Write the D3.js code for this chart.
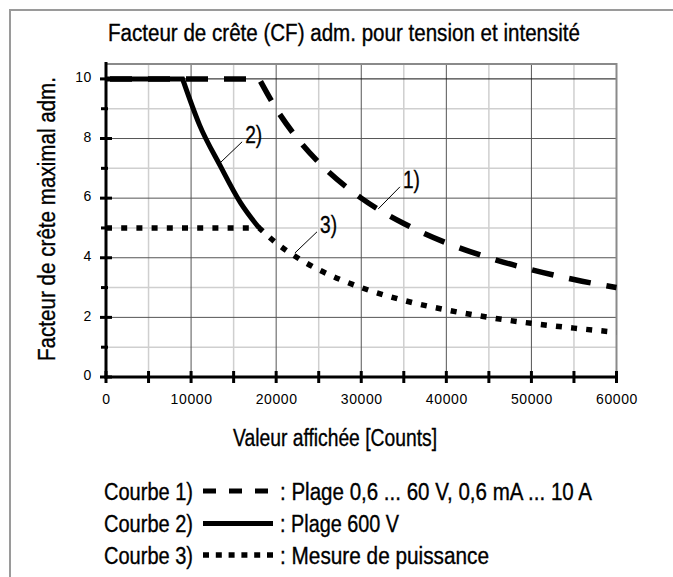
<!DOCTYPE html>
<html><head><meta charset="utf-8">
<script src="https://cdn.jsdelivr.net/npm/d3@7"></script>
<style>
body{margin:0;background:#fff}
text{fill:#000}
.cond{font-family:"Liberation Sans Narrow","Liberation Sans",Arial,sans-serif;stroke:#000;stroke-width:0.35px}
.tick text{font-family:"Liberation Sans",Arial,sans-serif;font-size:14px;letter-spacing:0.6px}
</style>
</head><body>
<svg id="c" width="673" height="577"></svg>
<script>
// ---- data ----
const titleText = "Facteur de crête (CF) adm. pour tension et intensité";
const xTitle = "Valeur affichée [Counts]";
const yTitle = "Facteur de crête maximal adm.";
const xTickValues = [0, 10000, 20000, 30000, 40000, 50000, 60000];
const xMinorValues = [5000, 15000, 25000, 35000, 45000, 55000];
const yTickValues = [0, 2, 4, 6, 8, 10];
const yMinorValues = [1, 3, 5, 7, 9];

// Curve 1) dashed
const curve1X = [0, 18000, 20000, 22500, 25000, 30000, 35000, 40000, 45000, 50000, 55000, 60000];
const curve1Y = [10, 10, 9, 8, 7.2, 6, 5.15, 4.5, 4, 3.6, 3.27, 3];
// Curve 2) solid
const curve2X = [0, 9000, 11000, 13400, 15800, 18000];
const curve2Y = [10, 10, 8.45, 7.1, 5.85, 5.0];
// Curve 3) dotted
const curve3X = [0, 18000, 20000, 22500, 25000, 30000, 35000, 40000, 45000, 50000, 55000, 60000];
const curve3Y = [5, 5, 4.5, 4, 3.6, 3, 2.57, 2.25, 2, 1.8, 1.64, 1.5];

// curve labels with leader lines (data coordinates)
const curveLabels = ["1)", "2)", "3)"];
const labelFromX = [32000, 13400, 22200];
const labelFromY = [5.64, 7.18, 4.16];
const labelToX = [34550, 16000, 24800];
const labelToY = [6.38, 7.89, 4.87];

const legendNames = ["Courbe 1)", "Courbe 2)", "Courbe 3)"];
const legendTexts = [": Plage 0,6 ... 60 V, 0,6 mA ... 10 A", ": Plage 600 V", ": Mesure de puissance"];

// ---- layout ----
const svg = d3.select("#c");
const x = d3.scaleLinear().domain([0, 60000]).range([106, 616.5]);
const y = d3.scaleLinear().domain([0, 10.5]).range([377, 64]);
const FS = 23;

// outer frame (top and left only visible)
svg.append("line").attr("x1", 9).attr("x2", 673).attr("y1", 10).attr("y2", 10)
  .attr("stroke", "#9a9a9a").attr("stroke-width", 2);
svg.append("line").attr("x1", 10).attr("x2", 10).attr("y1", 9).attr("y2", 577)
  .attr("stroke", "#9a9a9a").attr("stroke-width", 2);

// title
svg.append("text").attr("class", "cond").attr("x", 108).attr("y", 41)
  .attr("font-size", FS).attr("textLength", 472).attr("lengthAdjust", "spacingAndGlyphs")
  .text(titleText);

// gridlines
const g = svg.append("g");
g.selectAll(".vminor").data(xMinorValues).join("line")
  .attr("x1", d => x(d)).attr("x2", d => x(d)).attr("y1", y(10.5)).attr("y2", y(0))
  .attr("stroke", "#cfcfcf").attr("stroke-width", 1.5);
g.selectAll(".hminor").data(yMinorValues).join("line")
  .attr("y1", d => y(d)).attr("y2", d => y(d)).attr("x1", x(0)).attr("x2", x(60000))
  .attr("stroke", "#cfcfcf").attr("stroke-width", 1.5);
g.selectAll(".vmajor").data(xTickValues.slice(1)).join("line")
  .attr("x1", d => x(d)).attr("x2", d => x(d)).attr("y1", y(10.5)).attr("y2", y(0))
  .attr("stroke", "#555").attr("stroke-width", 1);
g.selectAll(".hmajor").data(yTickValues.slice(1)).join("line")
  .attr("y1", d => y(d)).attr("y2", d => y(d)).attr("x1", x(0)).attr("x2", x(60000))
  .attr("stroke", d => d === 10 ? "#111" : "#555").attr("stroke-width", 1);

// plot border top/right
svg.append("path")
  .attr("d", `M${x(0)},${y(10.5)}H${x(60000)}V${y(0)}`)
  .attr("fill", "none").attr("stroke", "#8a8a8a").attr("stroke-width", 2);

// axes labels via d3 axes
const xAxis = svg.append("g").attr("transform", `translate(0,${y(0)})`)
  .call(d3.axisBottom(x).tickValues(xTickValues).tickSize(0).tickPadding(17).tickFormat(d3.format("d")));
xAxis.select(".domain").remove();
const yAxis = svg.append("g").attr("transform", `translate(${x(0)},0)`)
  .call(d3.axisLeft(y).tickValues(yTickValues).tickSize(0).tickPadding(14));
yAxis.select(".domain").remove();
yAxis.selectAll(".tick text").attr("dy", "0.2em");

// axis lines
svg.append("line").attr("x1", x(0)).attr("x2", x(0)).attr("y1", y(10.5) - 2).attr("y2", y(0) + 1.5)
  .attr("stroke", "#000").attr("stroke-width", 3);
svg.append("line").attr("x1", x(0) - 1.5).attr("x2", x(60000)).attr("y1", y(0)).attr("y2", y(0))
  .attr("stroke", "#000").attr("stroke-width", 3);
// tick marks
svg.selectAll(".xt").data(xTickValues.concat(xMinorValues)).join("line")
  .attr("x1", d => x(d)).attr("x2", d => x(d)).attr("y1", y(0) - 6).attr("y2", y(0) + 6)
  .attr("stroke", "#000").attr("stroke-width", 3);
svg.selectAll(".yt").data(yTickValues).join("line")
  .attr("x1", x(0) - 6).attr("x2", x(0) + 6).attr("y1", d => y(d)).attr("y2", d => y(d))
  .attr("stroke", "#000").attr("stroke-width", 3);
svg.selectAll(".ytm").data(yMinorValues).join("line")
  .attr("x1", x(0) - 5).attr("x2", x(0) + 2).attr("y1", d => y(d)).attr("y2", d => y(d))
  .attr("stroke", "#000").attr("stroke-width", 3);

// axis titles
svg.append("text").attr("class", "cond").attr("x", 335).attr("y", 446)
  .attr("text-anchor", "middle").attr("font-size", FS)
  .attr("textLength", 204).attr("lengthAdjust", "spacingAndGlyphs").text(xTitle);
svg.append("text").attr("class", "cond")
  .attr("transform", "translate(55,219) rotate(-90)")
  .attr("text-anchor", "middle").attr("font-size", FS)
  .attr("textLength", 284).attr("lengthAdjust", "spacingAndGlyphs").text(yTitle);

// curves
function curvePath(xs, ys, corner) {
  const pts = xs.map((v, i) => [x(v), y(ys[i])]);
  const flat = d3.line().curve(d3.curveLinear)(pts.slice(0, corner + 1));
  const bend = d3.line().curve(d3.curveMonotoneX)(pts.slice(corner));
  return flat + bend.replace(/^M[^LC]*/, "");
}
const curves = svg.append("g").attr("fill", "none").attr("stroke", "#000");
curves.append("path").attr("d", curvePath(curve3X, curve3Y, 1))
  .attr("stroke-width", 5.5).attr("stroke-dasharray", "6,9.2");
curves.append("path").attr("d", curvePath(curve1X, curve1Y, 1))
  .attr("stroke-width", 5.5).attr("stroke-dasharray", "22,16").attr("stroke-dashoffset", -4);
curves.append("path").attr("d", curvePath(curve2X, curve2Y, 1))
  .attr("stroke-width", 5);

// curve labels
const lab = svg.append("g");
curveLabels.forEach((t, i) => {
  lab.append("line").attr("x1", x(labelFromX[i])).attr("y1", y(labelFromY[i]))
    .attr("x2", x(labelToX[i])).attr("y2", y(labelToY[i]))
    .attr("stroke", "#000").attr("stroke-width", 1);
  lab.append("text").attr("class", "cond").attr("font-size", FS)
    .attr("x", x(labelToX[i]) + 3).attr("y", y(labelToY[i]) + 1)
    .attr("textLength", 17).attr("lengthAdjust", "spacingAndGlyphs").text(t);
});

// legend
const rowY = [491, 523.5, 555];
const dashes = [["13,13", 5], [null, 5], ["6,6.8", 5.5]];
legendNames.forEach((n, i) => {
  svg.append("text").attr("class", "cond").attr("font-size", FS)
    .attr("x", 104).attr("y", rowY[i] + 8.5).attr("textLength", 89)
    .attr("lengthAdjust", "spacingAndGlyphs").text(n);
  const ln = svg.append("line").attr("x1", 203).attr("x2", 273)
    .attr("y1", rowY[i]).attr("y2", rowY[i])
    .attr("stroke", "#000").attr("stroke-width", dashes[i][1]);
  if (dashes[i][0]) ln.attr("stroke-dasharray", dashes[i][0]);
  const w = [312, 119, 209][i];
  svg.append("text").attr("class", "cond").attr("font-size", FS)
    .attr("x", 280).attr("y", rowY[i] + 8.5).attr("textLength", w)
    .attr("lengthAdjust", "spacingAndGlyphs").text(legendTexts[i]);
});
</script>
</body></html>
